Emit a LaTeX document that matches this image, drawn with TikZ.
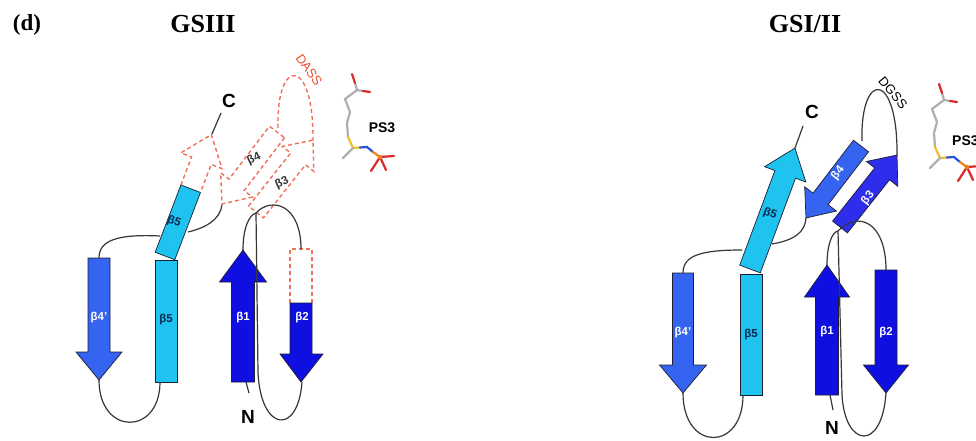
\documentclass[tikz,border=0pt]{standalone}
\usepackage{fontspec}
\setmainfont{Liberation Serif}
\setsansfont{Liberation Sans}
\usetikzlibrary{calc}

\definecolor{bFour}{RGB}{52,100,240}
\definecolor{bFive}{RGB}{30,195,240}
\definecolor{bOne}{RGB}{15,15,225}
\definecolor{bThree}{RGB}{45,45,235}
\definecolor{edgec}{RGB}{30,30,50}
\definecolor{loopc}{RGB}{55,55,55}
\definecolor{gapc}{RGB}{240,112,90}
\definecolor{gaptext}{RGB}{240,80,50}
\definecolor{darklab}{RGB}{10,40,80}
\definecolor{molgray}{RGB}{175,175,175}
\definecolor{molred}{RGB}{220,40,40}
\definecolor{molyel}{RGB}{240,190,40}
\definecolor{molblue}{RGB}{40,80,220}
\definecolor{molorange}{RGB}{240,130,30}

\tikzset{
  strand/.style={fill=#1, draw=edgec, line width=0.7pt, line join=miter},
  missing/.style={draw=gapc, dash pattern=on 4pt off 3pt, line width=1.4pt},
  coil/.style={draw=loopc, line width=1.2pt},
  lab/.style={font=\sffamily\bfseries\fontsize{11.5}{11.5}\selectfont, text=white, inner sep=0pt},
  dlab/.style={lab, text=darklab},
  term/.style={font=\sffamily\bfseries\fontsize{19}{19}\selectfont, inner sep=0pt},
  paneltitle/.style={font=\bfseries\fontsize{26}{26}\selectfont, inner sep=0pt},
  ligand/.style={font=\sffamily\bfseries\fontsize{14}{14}\selectfont, inner sep=0pt},
  loopname/.style={font=\sffamily\fontsize{13}{13}\selectfont, inner sep=0pt},
  stick/.style={line width=2.2pt, line cap=round},
}

% beta-strand arrow: style, tail, angle, length, head length, shaft half width, head half width
\newcommand\sheetarrow[7]{%
  \begin{scope}[shift={#2}, rotate=#3]
    \path[#1] (0,-#6) -- ({#4-#5},-#6) -- ({#4-#5},-#7) -- (#4,0)
      -- ({#4-#5},#7) -- ({#4-#5},#6) -- (0,#6) -- cycle;
  \end{scope}}

% phosphoserine stick model, placed by its sulfur/gamma atom
\newcommand\psligand[1]{%
  \begin{scope}[shift={#1}]
    \draw[stick, molgray] (4,-58) -- (-8,-49) -- (-3,-36) -- (-6,-25) -- (-5,-11);
    \draw[stick, molgray] (4,-58) -- (2,-65);
    \draw[stick, molred] (2,-65) -- (-1,-74);
    \draw[stick, molgray] (4,-58) -- (10,-57);
    \draw[stick, molred] (10,-57) -- (17,-56);
    \draw[stick, molyel] (-5,-11) -- (0,0) -- (7,-0.5);
    \draw[stick, molgray] (0,0) -- (-10,10);
    \draw[stick, molblue] (7,-0.5) -- (14,-1) -- (20,4);
    \draw[stick, molorange] (20,4) -- (27,9);
    \draw[stick, molred] (27,9) -- (18,23);
    \draw[stick, molred] (27,9) -- (41,8);
    \draw[stick, molred] (27,9) -- (33,22);
    \fill[molorange] (27,9) circle (2.3);
  \end{scope}}

\begin{document}
\begin{tikzpicture}[x=1pt, y=-1pt]
\useasboundingbox (0,0) rectangle (976,441);
\fill[white] (0,0) rectangle (976,441);

% ---------- titles ----------
\node[paneltitle, font=\bfseries\fontsize{23}{23}\selectfont] (tagd) at (27,25) {(d)};
\node[paneltitle] (tgs3) at (203,24) {GSIII};
\node[paneltitle] (tgs12) at (805,24) {GSI/II};

% ---------- GSIII panel ----------
\coordinate (LaBot) at (99,380);
\coordinate (LaTop) at (99,258);
\coordinate (LbBot) at (160,382);
\coordinate (LbUpL) at (160,236);
\coordinate (LbUpR) at (188,232);
\coordinate (LbTip) at (212,134);
\coordinate (LcEnd) at (221,113);
\coordinate (LdTip) at (222,205);
\coordinate (LdTail) at (278,128);
\coordinate (LcTail) at (256,213);
\coordinate (LcTip) at (313,141);
\coordinate (LeTip) at (243,250);
\coordinate (LeBot) at (246,382);
\coordinate (LnEnd) at (249,393);
\coordinate (LfTop) at (301,249);
\coordinate (LfTip) at (302,382);

% strands
\sheetarrow{strand=bFour}{(99,258)}{-90}{122}{28}{11}{23}
\path[strand=bFive] (155,260) rectangle (177,382);
\begin{scope}[shift={(165,256)}, rotate=69.1]
  \path[strand=bFive] (0,-10.5) rectangle (72,10.5);
  \draw[missing] (72,-10.5) -- (102,-10.5) -- (102,-22) -- (130,0)
    -- (102,22) -- (102,10.5) -- (72,10.5);
\end{scope}
\sheetarrow{strand=bOne}{(243,382)}{90}{132}{32}{11.5}{23.5}
\draw[missing] (290,303) -- (290,249) -- (312,249) -- (312,303);
\path[strand=bOne] (290,303) -- (290,354) -- (280,354) -- (301,382)
  -- (323,354) -- (312,354) -- (312,303) -- cycle;
\sheetarrow{missing}{(277,132)}{-127.4}{90.6}{24}{9.5}{20}
\sheetarrow{missing}{(256,212)}{51.6}{91.8}{24}{9.5}{20}
\draw[missing] (LdTail) .. controls (276,56) and (314,56) .. (LcTip);

% loops
\draw[coil] (LaBot) .. controls (99,436) and (160,436) .. (LbBot);
\draw[coil] (LaTop) .. controls (99,240) and (118,234) .. (LbUpL);
\draw[coil] (LbUpR) .. controls (205,228) and (220,220) .. (LdTip);
\draw[coil] (LeTip) .. controls (243,228) and (249,215) .. (LcTail);
\draw[coil] (LcTail) .. controls (272,196) and (301,205) .. (LfTop);
\draw[coil] (LcTail) -- (258,373) .. controls (261,432) and (298,436) .. (LfTip);
\draw[coil] (LeBot) -- (LnEnd);
\draw[coil] (LbTip) -- (LcEnd);

% labels
\node[lab] (lL4p) at (99,318) {β4'};
\node[dlab] (lL5a) at (166,320) {β5};
\node[dlab, rotate=-20] (lL5b) at (174,222) {β5};
\node[lab] (lL1) at (243,318) {β1};
\node[lab] (lL2) at (302,318) {β2};
\node[dlab, text=black!80, rotate=25] (lL4) at (254,159) {β4};
\node[dlab, text=black!80, rotate=25] (lL3) at (282,183) {β3};
\node[term] (lLC) at (229,101) {C};
\node[term] (lLN) at (248,417) {N};
\node[loopname, text=gaptext, rotate=-55] (lDASS) at (309,70) {DASS};
\psligand{(353,148)}
\node[ligand] (lLPS) at (382,128) {PS3};

% ---------- GSI/II panel ----------
\coordinate (RaBot) at (683,393);
\coordinate (RaTop) at (683,273);
\coordinate (RbBot) at (743,395);
\coordinate (RbUpL) at (742,250);
\coordinate (RbUpR) at (772,244);
\coordinate (RbTip) at (795,148);
\coordinate (RcEnd) at (803,126);
\coordinate (RdTip) at (806,218);
\coordinate (RdTail) at (862,141);
\coordinate (RcTail) at (838,231);
\coordinate (RcTip) at (897,156);
\coordinate (ReTip) at (827,265);
\coordinate (ReBot) at (830,395);
\coordinate (RnEnd) at (833,410);
\coordinate (RfTop) at (886,270);
\coordinate (RfTip) at (886,393);

% strands
\sheetarrow{strand=bFour}{(683,273)}{-90}{120}{28}{10.5}{23.5}
\path[strand=bFive] (740,274) rectangle (762,395);
\sheetarrow{strand=bFive}{(750,269)}{69.6}{129}{28}{11}{22}
\sheetarrow{strand=bOne}{(827,395)}{90}{130}{32}{11.5}{22.5}
\sheetarrow{strand=bOne}{(886,270)}{-90}{123}{28}{11}{22.5}
\sheetarrow{strand=bFour}{(861,146)}{-127.4}{90.6}{24}{9.5}{20}
\sheetarrow{strand=bThree}{(840,227)}{51.6}{91.8}{24}{9.5}{20}

% loops
\draw[coil] (RaBot) .. controls (683,452) and (743,452) .. (RbBot);
\draw[coil] (RaTop) .. controls (683,255) and (702,250) .. (RbUpL);
\draw[coil] (RbUpR) .. controls (795,240) and (805,232) .. (RdTip);
\draw[coil] (ReTip) .. controls (827,245) and (832,232) .. (RcTail);
\draw[coil] (RcTail) .. controls (858,210) and (886,222) .. (RfTop);
\draw[coil] (RcTail) -- (842,395) .. controls (845,448) and (882,452) .. (RfTip);
\draw[coil] (ReBot) -- (RnEnd);
\draw[coil] (RbTip) -- (RcEnd);
\draw[coil] (RdTail) .. controls (860,70) and (898,70) .. (RcTip);

% labels
\node[lab] (lR4p) at (683,333) {β4'};
\node[dlab] (lR5a) at (751,335) {β5};
\node[dlab, rotate=-20] (lR5b) at (770,214) {β5};
\node[lab] (lR1) at (827,332) {β1};
\node[lab] (lR2) at (886,333) {β2};
\node[lab, rotate=52] (lR4) at (838,173) {β4};
\node[lab, rotate=52] (lR3) at (868,198) {β3};
\node[term] (lRC) at (812,112) {C};
\node[term] (lRN) at (832,428) {N};
\node[loopname, rotate=-50] (lDGSS) at (893,93) {DGSS};
\psligand{(940,158)}
\node[ligand, anchor=west] (lRPS) at (952,141) {PS3};

\end{tikzpicture}
\end{document}
